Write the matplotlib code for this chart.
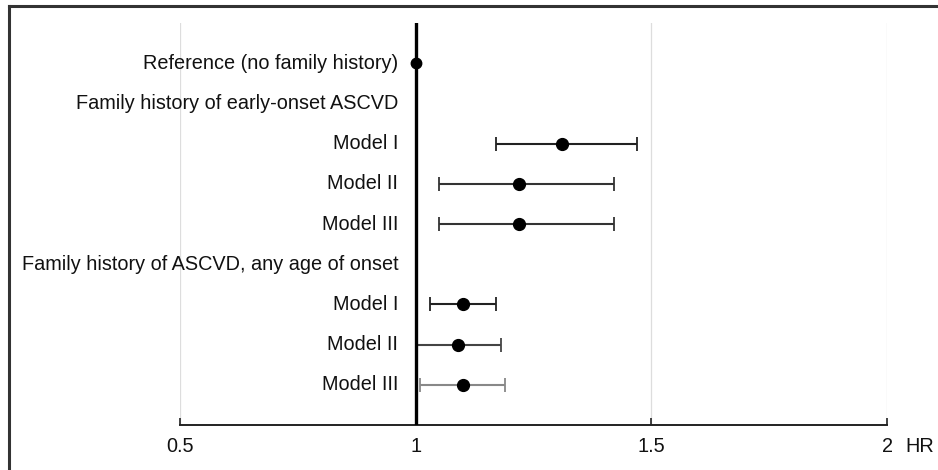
import matplotlib
matplotlib.use('Agg')
import matplotlib.pyplot as plt
from matplotlib.lines import Line2D

plt.rcParams['font.family'] = ['Liberation Sans', 'DejaVu Sans']

labels = [
    'Reference (no family history)',
    'Family history of early-onset ASCVD',
    'Model I',
    'Model II',
    'Model III',
    'Family history of ASCVD, any age of onset',
    'Model I',
    'Model II',
    'Model III',
]
# None = header row without estimate
hr = [1.00, None, 1.31, 1.22, 1.22, None, 1.10, 1.09, 1.10]
ci_low = [None, None, 1.17, 1.05, 1.05, None, 1.03, 1.00, 1.01]
ci_high = [None, None, 1.47, 1.42, 1.42, None, 1.17, 1.18, 1.19]
xticks = [0.5, 1, 1.5, 2]
xtick_labels = ['0.5', '1', '1.5', '2']

line_colors = [None, None, '#222222', '#333333', '#333333', None, '#222222', '#444444', '#888888']

W, H = 938, 470
FS = 14.3
fig = plt.figure(figsize=(W / 100, H / 100), dpi=100)
ax = fig.add_axes([180 / W, 45 / H, (887 - 180) / W, (447 - 45) / H])

n = len(labels)
ax.set_xlim(0.5, 2)
ax.set_ylim(n, -1)

# grid lines and reference line
for x in xticks:
    if x == 1:
        continue
    ax.axvline(x, color='#dddddd', lw=0.9, zorder=0)
ax.axvline(1, color='black', lw=2.4, zorder=4.5)

for i, (lab, est, lo, hi) in enumerate(zip(labels, hr, ci_low, ci_high)):
    ax.text(0.963, i, lab, ha='right', va='center', fontsize=FS, color='#111111')
    if est is None:
        continue
    if lo is None:
        ax.plot(est, i, 'o', color='black', ms=7.5, zorder=6)
        continue
    ax.errorbar(est, i, xerr=[[est - lo], [hi - est]], fmt='o', color='black',
                ms=8.5, ecolor=line_colors[i], elinewidth=1.5, capsize=5,
                capthick=1.3, zorder=4)

ax.set_xticks(xticks)
ax.set_xticklabels(xtick_labels, fontsize=FS)
ax.set_yticks([])
for s in ['top', 'right', 'left']:
    ax.spines[s].set_visible(False)
ax.spines['bottom'].set_color('#222222')
ax.spines['bottom'].set_linewidth(1.4)
ax.tick_params(axis='x', direction='in', length=5, width=1.2, pad=9, colors='#222222',
               labelcolor='#111111')
ax.annotate('HR', xy=(1, 0), xycoords='axes fraction', xytext=(13, -9),
            textcoords='offset points', ha='left', va='top', fontsize=FS, color='#111111')

# outer frame (top and left only visible)
fig.add_artist(Line2D([9 / W, 1], [1 - 6 / H, 1 - 6 / H], color='#333333', lw=2.2,
                      transform=fig.transFigure))
fig.add_artist(Line2D([9 / W, 9 / W], [0, 1 - 6 / H], color='#333333', lw=2.2,
                      transform=fig.transFigure))

fig.savefig('out.png', dpi=100)
